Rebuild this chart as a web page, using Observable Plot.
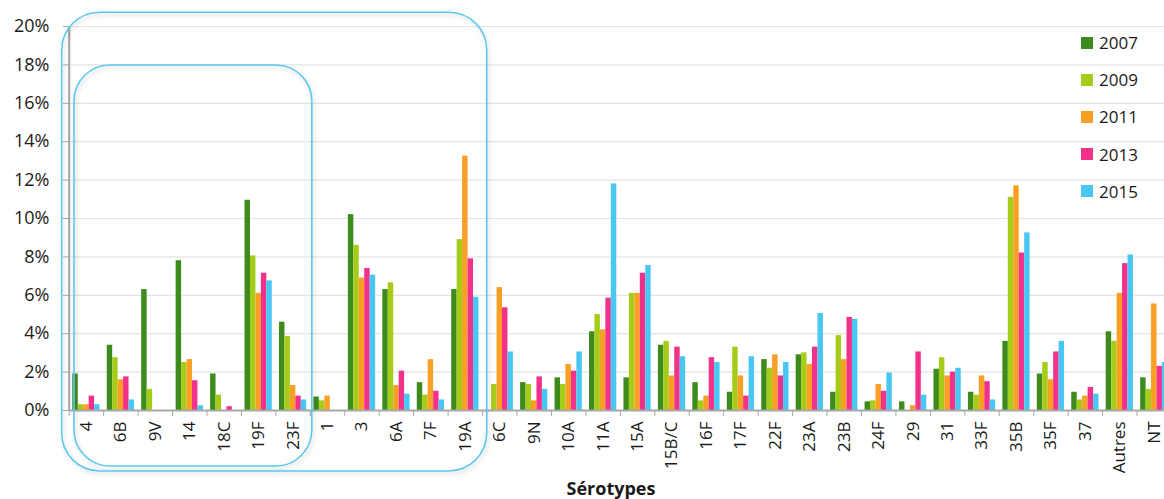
<!DOCTYPE html>
<html>
<head>
<meta charset="utf-8">
<script src="https://cdn.jsdelivr.net/npm/d3@7"></script>
<script src="https://cdn.jsdelivr.net/npm/@observablehq/plot@0.6"></script>
<style>
  body { margin: 0; background: #fff; }
  #wrap { position: relative; width: 1164px; height: 499px; overflow: hidden; font-family: "Open Sans", sans-serif; }
  .legend { position: absolute; left: 1081px; top: 24px; }
  .legend .item { display: flex; align-items: center; height: 37.2px; font-size: 17px; color: #1a1a1a; }
  .legend .sw { width: 12px; height: 12px; margin-right: 6px; }
</style>
</head>
<body>
<div id="wrap"></div>
<script>
const categories = ["4","6B","9V","14","18C","19F","23F","1","3","6A","7F","19A","6C","9N","10A","11A","15A","15B/C","16F","17F","22F","23A","23B","24F","29","31","33F","35B","35F","37","Autres","NT"];
const years = ["2007","2009","2011","2013","2015"];
const v2007 = [1.9,3.4,6.3,7.8,1.9,10.95,4.6,0.7,10.2,6.3,1.45,6.3,0,1.45,1.7,4.1,1.7,3.4,1.45,0.95,2.65,2.9,0.95,0.45,0.45,2.15,0.95,3.6,1.9,0.95,4.1,1.7];
const v2009 = [0.3,2.75,1.1,2.5,0.8,8.05,3.85,0.5,8.6,6.65,0.8,8.9,1.35,1.35,1.35,5.0,6.1,3.6,0.5,3.3,2.2,3.0,3.9,0.5,0,2.75,0.8,11.1,2.5,0.55,3.6,1.1];
const v2011 = [0.3,1.6,0,2.65,0,6.1,1.3,0.75,6.9,1.3,2.65,13.25,6.4,0.5,2.4,4.2,6.1,1.8,0.75,1.8,2.9,2.4,2.65,1.35,0.25,1.8,1.8,11.7,1.6,0.75,6.1,5.55];
const v2013 = [0.75,1.75,0,1.55,0.2,7.15,0.75,0,7.4,2.05,1.0,7.9,5.35,1.75,2.05,5.85,7.15,3.3,2.75,0.75,1.8,3.3,4.85,1.0,3.05,2.0,1.5,8.2,3.05,1.2,7.65,2.3];
const v2015 = [0.3,0.55,0,0.25,0,6.75,0.55,0,7.05,0.85,0.55,5.9,3.05,1.1,3.05,11.8,7.55,2.8,2.5,2.8,2.5,5.05,4.75,1.95,0.8,2.2,0.55,9.25,3.6,0.85,8.1,2.5];
const yTicks = [0,2,4,6,8,10,12,14,16,18,20];
const colors = ["#3d8a1d","#a5cc18","#f9a024","#f2318b","#48c7f3"];
const pcv7 = ["4","23F"];
const pcv13 = ["4","19A"];

const series = [v2007, v2009, v2011, v2013, v2015];
const rows = [];
years.forEach((y, i) => categories.forEach((c, j) => rows.push({cat: c, year: y, v: series[i][j]})));

const W = 1164, H = 499;
const xRange = [68.7, 1171];
const bw = (xRange[1] - xRange[0]) / categories.length;
const barW = 5.45;
const off = (bw - barW * years.length) / 2;

const barMarks = years.map((y, i) => Plot.barY(rows.filter(d => d.year === y), {
  x: "cat", y: "v", fill: colors[i],
  insetLeft: off + i * barW, insetRight: bw - off - (i + 1) * barW
}));

const chart = Plot.plot({
  width: W, height: H,
  marginLeft: 69, marginRight: 0, marginTop: 26, marginBottom: 89,
  style: {fontFamily: "Open Sans, sans-serif", fontSize: "16px", color: "#1a1a1a", background: "#fff"},
  x: {domain: categories, range: xRange, padding: 0, round: false},
  y: {domain: [0, 20], range: [410, 26]},
  marks: [
    Plot.gridY(yTicks, {stroke: "#e4e4e4", strokeOpacity: 1, strokeWidth: 1.2}),
    ...barMarks,
    Plot.ruleY([0], {stroke: "#a8a8a8", strokeWidth: 2}),
    Plot.ruleX([categories[0]], {dx: -bw / 2, y1: 0, y2: 20, stroke: "#a8a8a8", strokeWidth: 2.2}),
    Plot.axisY(yTicks, {tickSize: 6, tickPadding: 14, tickFormat: d => d + "%", label: null, stroke: "#a8a8a8", fontSize: 18}),
    Plot.axisX({tickSize: 6, dx: -bw / 2, tickFormat: () => "", label: null, stroke: "#a8a8a8"}),
    Plot.axisX({tickSize: 0, tickPadding: 11, tickRotate: -90, label: null, fontSize: 17}),
    Plot.text(["Sérotypes"], {frameAnchor: "bottom", dy: 84, dx: -6, fontWeight: "bold", fontSize: 18}),
    Plot.text(["PCV7"], {x: "9V", y: 15.65, dx: -10, fontSize: 17}),
    Plot.text(["PCV13"], {x: "7F", y: 18.85, dx: 9, fontSize: 17})
  ]
});

document.getElementById("wrap").appendChild(chart);

// rounded annotation boxes, positioned via the chart's own scales
const sx = chart.scale("x"), sy = chart.scale("y");
const bwS = sx.bandwidth;
const svg = d3.select(chart);
const defs = svg.append("defs");
const f = defs.append("filter").attr("id", "sh").attr("x", "-5%").attr("y", "-5%").attr("width", "110%").attr("height", "110%");
f.append("feDropShadow").attr("dx", 1.5).attr("dy", 2.5).attr("stdDeviation", 2).attr("flood-color", "#000").attr("flood-opacity", 0.18);
function box(range, padL, padR, yTop, yBot, r) {
  const x0 = sx.apply(range[0]) + padL;
  const x1 = sx.apply(range[1]) + bwS + padR;
  const y0 = sy.apply(yTop), y1 = sy.apply(yBot);
  svg.append("rect")
    .attr("x", x0).attr("y", y0).attr("width", x1 - x0).attr("height", y1 - y0)
    .attr("rx", r).attr("ry", r)
    .attr("fill", "none").attr("stroke", "#5cc8f0").attr("stroke-width", 1.6)
    .attr("filter", "url(#sh)");
}
box(pcv7, 5.3, 2, 17.97, -2.92, 36);
box(pcv13, -7, 4.7, 20.72, -3.18, 38);

// legend
const leg = d3.select("#wrap").append("div").attr("class", "legend");
years.forEach((y, i) => {
  const it = leg.append("div").attr("class", "item");
  it.append("div").attr("class", "sw").style("background", colors[i]);
  it.append("span").text(y);
});
</script>
</body>
</html>
